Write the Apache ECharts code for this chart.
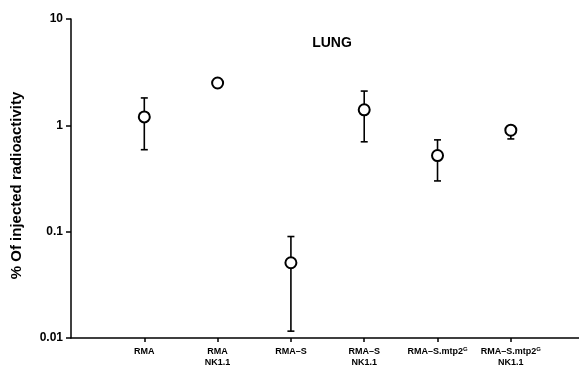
<!DOCTYPE html>
<html>
<head>
<meta charset="utf-8">
<script src="https://cdn.jsdelivr.net/npm/echarts@6/dist/echarts.min.js"></script>
<style>html,body{margin:0;padding:0;background:#fff}#c{width:579px;height:371px}</style>
</head>
<body>
<div id="c"></div>
<script>
const categories = ['RMA', 'RMA\nNK1.1', 'RMA–S', 'RMA–S\nNK1.1', 'RMA–S.mtp2{sup|G}', 'RMA–S.mtp2{sup|G}\nNK1.1'];
const means = [1.2, 2.5, 0.051, 1.4, 0.52, 0.9];
const upper = [1.81, null, 0.09, 2.1, 0.73, 0.95];
const lower = [0.59, null, 0.0116, 0.70, 0.30, 0.745];
const yTicks = [0.01, 0.1, 1, 10];

const pointData = means.map((m, i) => [i + 1, m]);
const errData = means.map((m, i) => [i + 1, lower[i], upper[i]]).filter(d => d[1] != null);

const font = '"Liberation Sans", Arial, sans-serif';
const chart = echarts.init(document.getElementById('c'));
chart.setOption({
  animation: false,
  backgroundColor: '#fff',
  title: {
    text: 'LUNG', left: 327, top: 31, textAlign: 'center',
    textStyle: { fontFamily: font, fontWeight: 'bold', fontSize: 14, color: '#000' }
  },
  grid: { left: 71, right: 0, top: 19, bottom: 33, containLabel: false, outerBoundsMode: 'none' },
  xAxis: {
    type: 'value', min: 0, max: 6.93, interval: 1,
    splitLine: { show: false },
    axisLine: { lineStyle: { color: '#000', width: 1.5 } },
    axisTick: { length: 4, lineStyle: { color: '#000', width: 1.5 }, customValues: [1, 2, 3, 4, 5, 6] },
    axisLabel: {
      customValues: [1, 2, 3, 4, 5, 6],
      margin: 8,
      formatter: v => categories[Math.round(v) - 1] || '',
      fontFamily: font, fontWeight: 'bold', fontSize: 9, color: '#000', lineHeight: 11,
      rich: { sup: { fontSize: 6, fontWeight: 'bold', fontFamily: font, verticalAlign: 'top', lineHeight: 11, padding: [0, 0, 4, 0] } }
    }
  },
  yAxis: {
    type: 'log', logBase: 10, min: 0.01, max: 10,
    name: '% Of injected radioactivity', nameLocation: 'middle', nameGap: 47, nameRotate: 90,
    nameTextStyle: { fontFamily: font, fontWeight: 'bold', fontSize: 15, color: '#000', padding: [0, 14, 0, 0] },
    splitLine: { show: false },
    axisLine: { show: true, lineStyle: { color: '#000', width: 1.5 } },
    axisTick: { show: true, length: 5, lineStyle: { color: '#000', width: 1.5 } },
    axisLabel: {
      margin: 8, fontFamily: font, fontWeight: 'bold', fontSize: 12, color: '#000',
      formatter: v => { const t = yTicks.find(x => Math.abs(Math.log10(x) - Math.log10(v)) < 1e-6); return t != null ? String(t) : ''; }
    }
  },
  series: [
    {
      type: 'custom', z: 2,
      data: errData,
      renderItem: (params, api) => {
        const x = api.value(0);
        const lo = api.coord([x, api.value(1)]);
        const hi = api.coord([x, api.value(2)]);
        const w = 3.5;
        const st = { stroke: '#000', lineWidth: 1.6 };
        return {
          type: 'group',
          children: [
            { type: 'line', shape: { x1: hi[0], y1: hi[1], x2: lo[0], y2: lo[1] }, style: st },
            { type: 'line', shape: { x1: hi[0] - w, y1: hi[1], x2: hi[0] + w, y2: hi[1] }, style: st },
            { type: 'line', shape: { x1: lo[0] - w, y1: lo[1], x2: lo[0] + w, y2: lo[1] }, style: st }
          ]
        };
      }
    },
    {
      type: 'scatter', z: 5,
      data: pointData,
      symbol: 'circle', symbolSize: 11,
      itemStyle: { color: '#fff', borderColor: '#000', borderWidth: 2, opacity: 1 }
    }
  ]
});
</script>
</body>
</html>
